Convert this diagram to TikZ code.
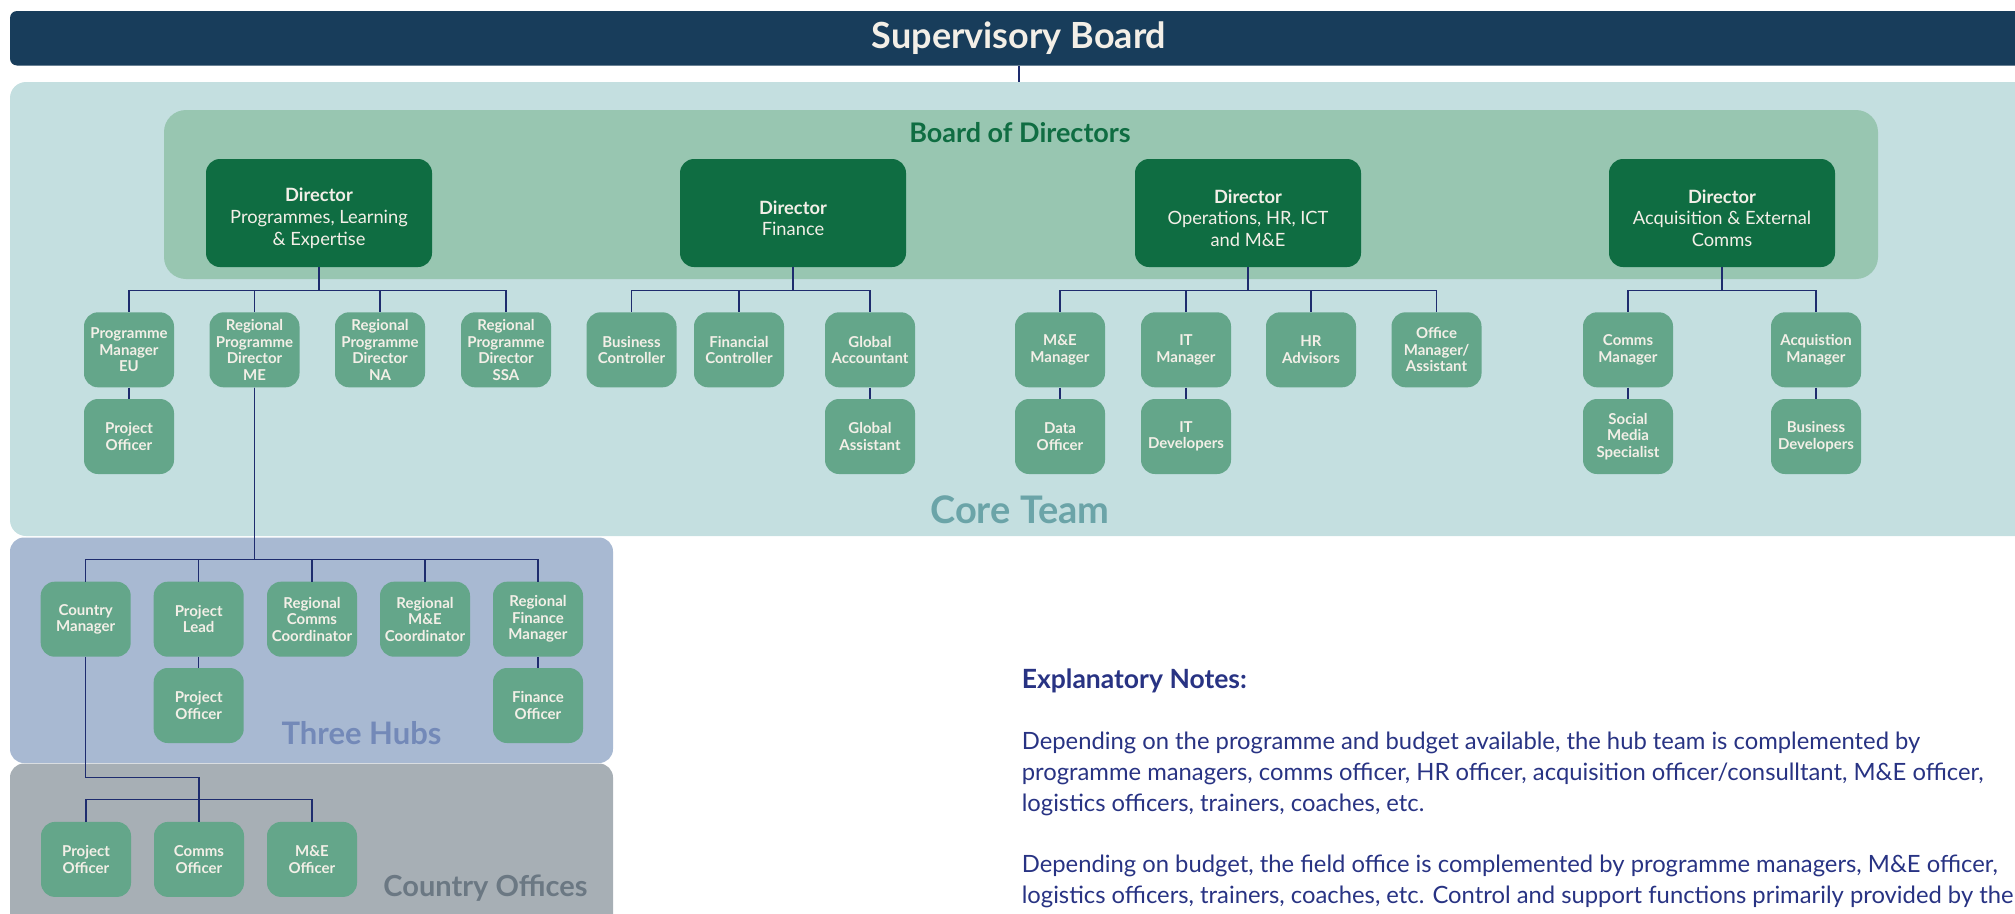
\documentclass[tikz,border=0pt]{standalone}
\usepackage{fontspec}
\setmainfont{Lato}
\usetikzlibrary{calc}
\definecolor{supnavy}{HTML}{183D5B}
\definecolor{coreteam}{HTML}{C4DFE0}
\definecolor{boardbg}{HTML}{98C6B1}
\definecolor{dirgreen}{HTML}{0F6D42}
\definecolor{staffgreen}{HTML}{64A68A}
\definecolor{cream}{HTML}{F3EFE7}
\definecolor{linecol}{HTML}{1E2C6E}
\definecolor{hubbg}{HTML}{A8B9D2}
\definecolor{countrybg}{HTML}{A7AFB5}
\definecolor{coretxt}{HTML}{6BA4A8}
\definecolor{hubtxt}{HTML}{7389B8}
\definecolor{countrytxt}{HTML}{6B7883}
\definecolor{notetxt}{HTML}{283383}
\newcommand{\dirhead}{\rule{0pt}{24pt}\textbf{Director}}
\begin{document}
\begin{tikzpicture}[x=1pt,y=-1pt,
  staff/.style={fill=staffgreen, text=cream, rounded corners=14pt, minimum width=90pt, minimum height=75pt, inner sep=0pt, align=center, font=\fontsize{15}{16.5}\selectfont\bfseries},
  director/.style={fill=dirgreen, text=cream, rounded corners=14pt, minimum width=226pt, minimum height=108pt, inner sep=0pt, align=center, font=\fontsize{18.3}{21.7}\selectfont},
  conn/.style={draw=linecol, line width=1.5pt},
  note/.style={anchor=base west, inner sep=0pt, text=notetxt, font=\fontsize{23.8}{31}\selectfont}
]
\clip (0,0) rectangle (2015,913);
% backgrounds
\fill[supnavy, rounded corners=7pt] (10,11) rectangle (2060,65.5);
\fill[coreteam, rounded corners=16pt] (10,82) rectangle (2060,536);
\fill[boardbg, rounded corners=22pt] (164,110) rectangle (1878,279);
\fill[hubbg, rounded corners=14pt] (10,537.5) rectangle (613,763);
\fill[countrybg, rounded corners=14pt] (10,763.5) rectangle (613,940);

\node[text=cream, font=\fontsize{36}{40}\selectfont\bfseries] (sup) at (1019,38.5) {Supervisory Board};
\coordinate (coretop) at (1019,82);
\draw[conn] (sup.south |- 0,65.5) -- (coretop);

\node[text=dirgreen, font=\fontsize{27}{30}\selectfont\bfseries] (bod) at (1020,132.5) {Board of Directors};
\node[text=coretxt, font=\fontsize{38}{42}\selectfont\bfseries] (coreL) at (1020,510) {Core Team};
\node[text=hubtxt, font=\fontsize{31}{36}\selectfont\bfseries] (hubL) at (361.5,733) {Three Hubs};
\node[text=countrytxt, font=\fontsize{29}{34}\selectfont\bfseries] (coL) at (485.5,888) {Country Offices};

% directors
\node[director] (d1) at (319,213) {\dirhead\\Programmes, Learning\\\& Expertise};
\node[director] (d2) at (793,213) {\dirhead\\Finance};
\node[director] (d3) at (1248,213) {\dirhead\\Operations, HR, ICT\\and M\&E};
\node[director] (d4) at (1722,213) {\dirhead\\Acquisition \& External\\Comms};

% row 1 core team
\node[staff] (pmeu) at (129,349.8) {Programme\\Manager\\EU};
\node[staff] (rme) at (254.5,349.8) {Regional\\Programme\\Director\\ME};
\node[staff] (rna) at (380,349.8) {Regional\\Programme\\Director\\NA};
\node[staff] (rssa) at (506,349.8) {Regional\\Programme\\Director\\SSA};
\node[staff] (bc) at (631.5,349.8) {Business\\Controller};
\node[staff] (fc) at (739,349.8) {Financial\\Controller};
\node[staff] (ga) at (870,349.8) {Global\\Accountant};
\node[staff] (mem) at (1060,349.8) {M\&E\\Manager};
\node[staff] (itm) at (1186,349.8) {IT\\Manager};
\node[staff] (hr) at (1311,349.8) {HR\\Advisors};
\node[staff] (om) at (1436.5,349.8) {Office\\Manager/\\Assistant};
\node[staff] (cm) at (1628,349.8) {Comms\\Manager};
\node[staff] (am) at (1816,349.8) {Acquistion\\Manager};
% row 2 core team
\node[staff] (po1) at (129,436.5) {Project\\Officer};
\node[staff] (gas) at (870,436.5) {Global\\Assistant};
\node[staff] (do) at (1060,436.5) {Data\\Officer};
\node[staff] (itd) at (1186,436.5) {IT\\Developers};
\node[staff] (sms) at (1628,436.5) {Social\\Media\\Specialist};
\node[staff] (bd) at (1816,436.5) {Business\\Developers};

% hubs
\node[staff] (cnm) at (85.7,619.2) {Country\\Manager};
\node[staff] (pl) at (198.7,619.2) {Project\\Lead};
\node[staff] (rcc) at (312,619.2) {Regional\\Comms\\Coordinator};
\node[staff] (rmc) at (425,619.2) {Regional\\M\&E\\Coordinator};
\node[staff] (rfm) at (538,619.2) {Regional\\Finance\\Manager};
\node[staff] (po2) at (198.7,705.5) {Project\\Officer};
\node[staff] (fo) at (538,705.5) {Finance\\Officer};

% country offices
\node[staff] (po3) at (86,859.4) {Project\\Officer};
\node[staff] (co) at (199,859.4) {Comms\\Officer};
\node[staff] (meo) at (312,859.4) {M\&E\\Officer};

% connectors
\coordinate (bus) at (0,290.7);
\coordinate (hbus) at (0,559.3);
\coordinate (cbus) at (0,799.3);
\coordinate (cmbend) at (0,777.7);

\foreach \c in {pmeu,rme,rna,rssa} \draw[conn] (d1.south) -- (d1.south |- bus) -| (\c.north);
\foreach \c in {bc,fc,ga} \draw[conn] (d2.south) -- (d2.south |- bus) -| (\c.north);
\foreach \c in {mem,itm,hr,om} \draw[conn] (d3.south) -- (d3.south |- bus) -| (\c.north);
\foreach \c in {cm,am} \draw[conn] (d4.south) -- (d4.south |- bus) -| (\c.north);

\draw[conn] (pmeu.south) -- (po1.north);
\draw[conn] (ga.south) -- (gas.north);
\draw[conn] (mem.south) -- (do.north);
\draw[conn] (itm.south) -- (itd.north);
\draw[conn] (cm.south) -- (sms.north);
\draw[conn] (am.south) -- (bd.north);

\foreach \c in {cnm,pl,rcc,rmc,rfm} \draw[conn] (rme.south) -- (rme.south |- hbus) -| (\c.north);
\draw[conn] (pl.south) -- (po2.north);
\draw[conn] (rfm.south) -- (fo.north);

\draw[conn] (cnm.south) -- (cnm.south |- cmbend) -| (co.north);
\draw[conn] (po3.north) -- (po3.north |- cbus) -| (meo.north);

% notes
\node[anchor=base west, inner sep=0pt, text=notetxt, font=\fontsize{26.5}{30}\selectfont\bfseries] (nt) at (1021.6,688) {Explanatory Notes:};
\node[note] (n1a) at (1021.6,749) {Depending on the programme and budget available, the hub team is complemented by};
\node[note] (n1b) at (1021.6,780) {programme managers, comms officer, HR officer, acquisition officer/consulltant, M\&E officer,};
\node[note] (n1c) at (1021.6,811) {logistics officers, trainers, coaches, etc.};
\node[note] (n2a) at (1021.6,872) {Depending on budget, the field office is complemented by programme managers, M\&E officer,};
\node[note] (n2b) at (1021.6,903) {logistics officers, trainers, coaches, etc. Control and support functions primarily provided by the};
\end{tikzpicture}
\end{document}
